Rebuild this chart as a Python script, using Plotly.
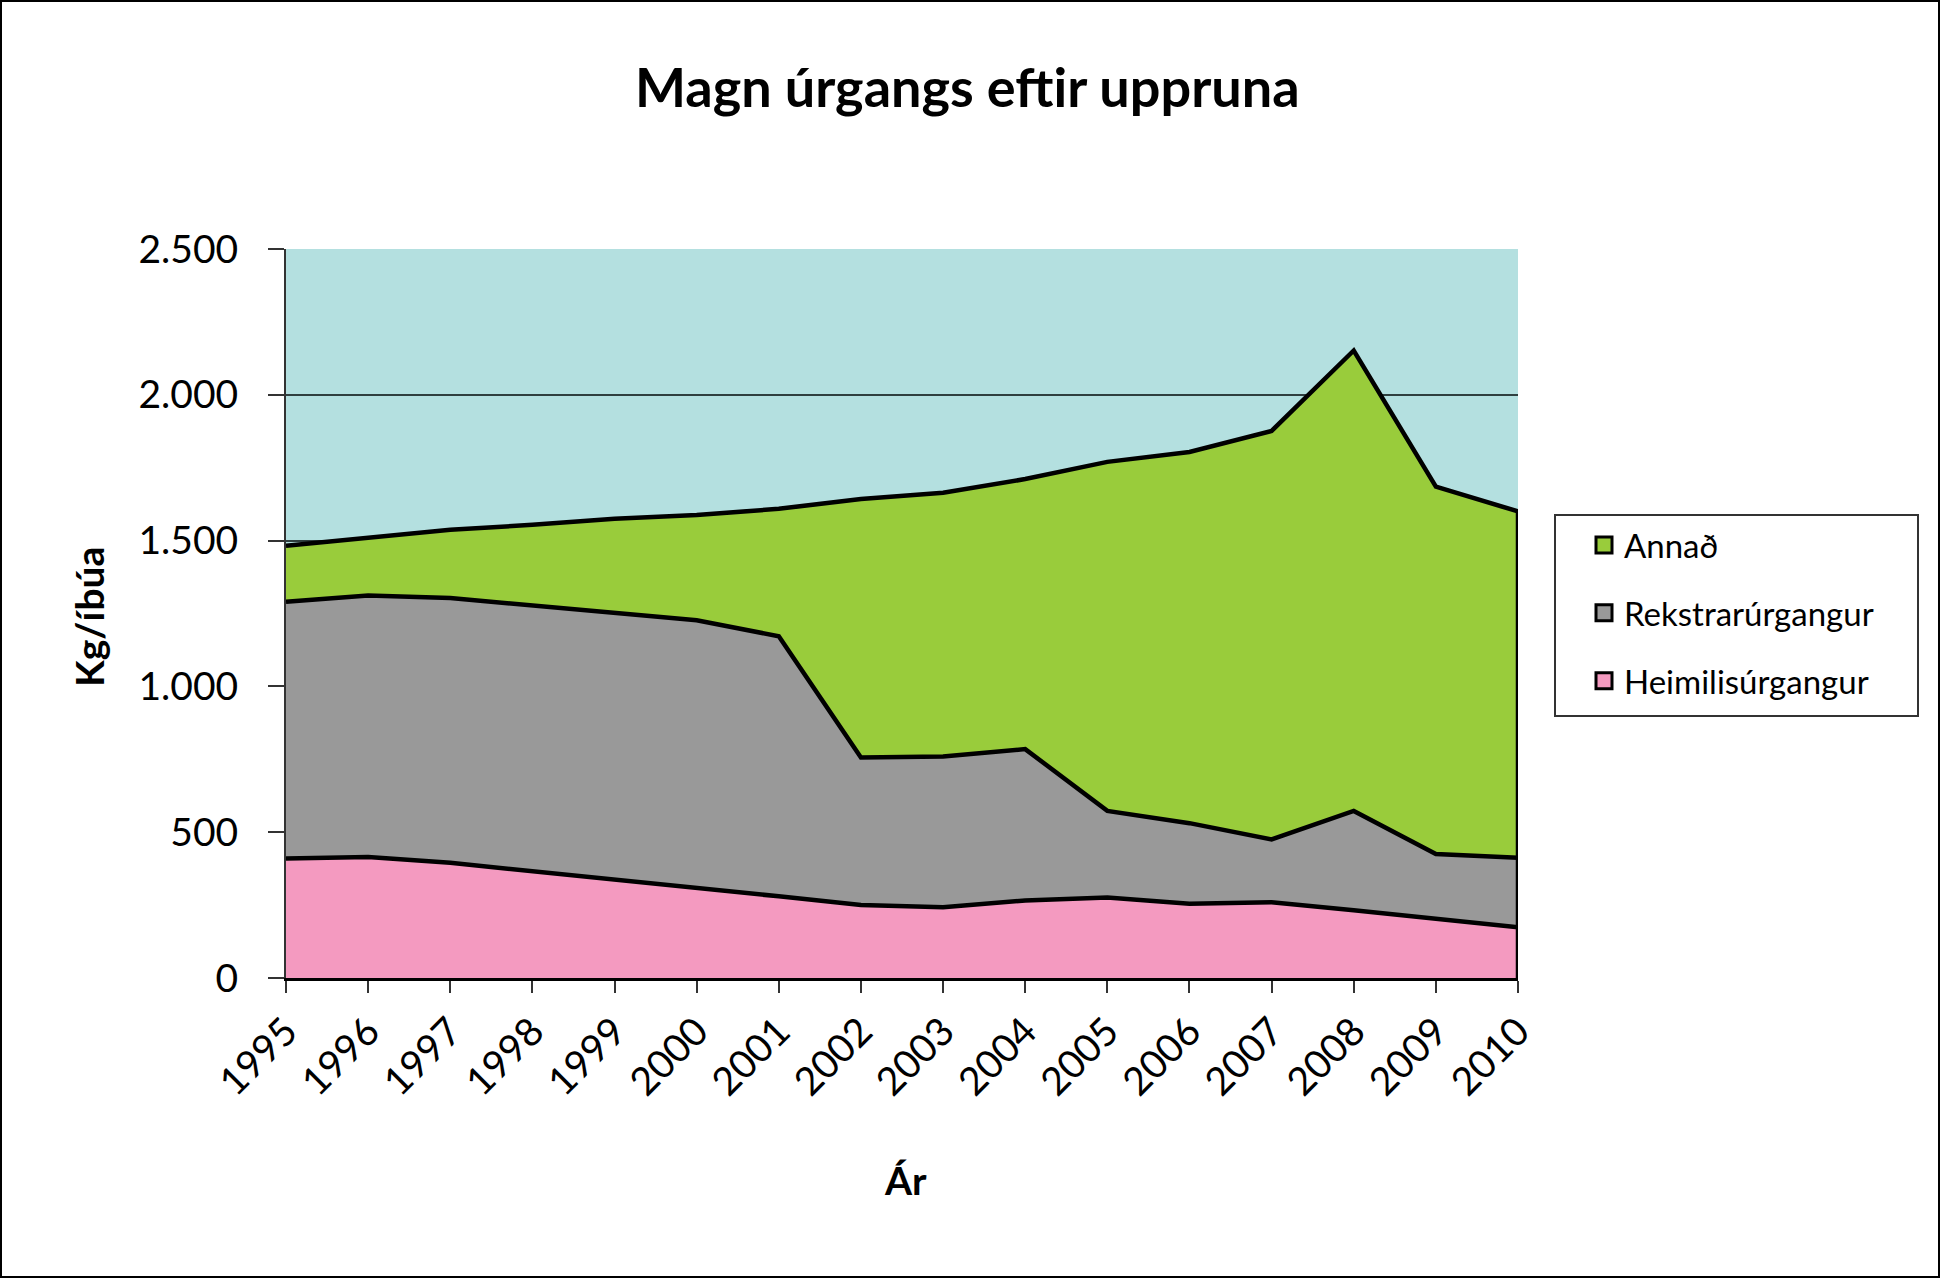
import plotly.graph_objects as go

# data (kg per inhabitant)
years = [1995, 1996, 1997, 1998, 1999, 2000, 2001, 2002, 2003, 2004, 2005, 2006, 2007, 2008, 2009, 2010]
heimilis = [410, 415, 395, 367, 337, 310, 280, 250, 243, 266, 276, 255, 260, 232, 203, 174]
rekstrar = [880, 897, 908, 911, 915, 917, 892, 506, 517, 519, 297, 276, 215, 341, 222, 238]
annad = [192, 199, 234, 276, 323, 361, 437, 887, 904, 926, 1197, 1273, 1401, 1579, 1260, 1188]
series_names = ["Heimilisúrgangur", "Rekstrarúrgangur", "Annað"]
series_colors = ["#F49AC0", "#999999", "#99CC3B"]
y_ticks = [0, 500, 1000, 1500, 2000, 2500]

W, H = 1941, 1279
L, R, T, B = 286, 423, 249, 301
pw, ph = W - L - R, H - T - B
FONT = "Lato"

def px_x(p):
    return (p - L) / pw

def px_y(p):
    return (H - B - p) / ph

fig = go.Figure()
for i, (name, vals) in enumerate(zip(series_names, [heimilis, rekstrar, annad])):
    fig.add_trace(go.Scatter(
        x=years, y=vals, name=name, mode="lines", stackgroup="one",
        fillcolor=series_colors[i], line=dict(color="black", width=4.5),
        showlegend=False,
    ))

# right-hand edge of the stacked area
total = [a + b + c for a, b, c in zip(heimilis, rekstrar, annad)]
fig.add_trace(go.Scatter(x=[years[-1], years[-1]], y=[0, total[-1]], mode="lines",
                         line=dict(color="black", width=4.5), showlegend=False, hoverinfo="skip"))

# legend entries with square swatches, Annað on top
for i, name in enumerate(series_names):
    fig.add_trace(go.Scatter(
        x=[None], y=[None], mode="markers", name=name, legendgroup=name,
        legendrank=3 - i,
        marker=dict(symbol="square", size=20, color=series_colors[i],
                    line=dict(color="black", width=3)),
    ))

fig.update_layout(
    width=W, height=H,
    margin=dict(l=L, r=R, t=T, b=B),
    paper_bgcolor="white", plot_bgcolor="#B4E0E0",
    separators=",.",
    font=dict(family=FONT, color="black"),
    showlegend=True,
    legend=dict(
        x=px_x(1584), y=px_y(517), xanchor="left", yanchor="top",
        borderwidth=0, bgcolor="rgba(0,0,0,0)",
        font=dict(size=33, family=FONT), tracegroupgap=22,
        itemwidth=30,
    ),
)

fig.update_xaxes(
    range=[years[0], years[-1]], tickvals=years, ticktext=[str(y) for y in years],
    tickangle=-45, tickfont=dict(size=39, family=FONT), ticks="outside", ticklen=12,
    tickwidth=2, tickcolor="#333333", showgrid=False, zeroline=False,
    showline=True, linecolor="black", linewidth=3,
)
fig.update_yaxes(
    range=[0, 2500], tickvals=y_ticks, tickformat=",d",
    tickfont=dict(size=39, family=FONT), ticks="outside", ticklen=16, tickwidth=2,
    tickcolor="#333333", ticklabelstandoff=22, showgrid=True, gridcolor="#2F3F3F",
    gridwidth=1.5, zeroline=False, showline=True, linecolor="#333333", linewidth=2,
)

# titles
fig.add_annotation(text="<b>Magn úrgangs eftir uppruna</b>", xref="paper", yref="paper",
                   x=px_x(967), y=px_y(87), xanchor="center", yanchor="middle",
                   showarrow=False, font=dict(size=54, family=FONT))
fig.add_annotation(text="<b>Kg/íbúa</b>", xref="paper", yref="paper",
                   x=px_x(89), y=px_y(617), xanchor="center", yanchor="middle",
                   showarrow=False, textangle=-90, font=dict(size=39, family=FONT))
fig.add_annotation(text="<b>Ár</b>", xref="paper", yref="paper",
                   x=px_x(905), y=px_y(1180), xanchor="center", yanchor="middle",
                   showarrow=False, font=dict(size=39, family=FONT))

# legend box
fig.add_shape(type="rect", xref="paper", yref="paper",
              x0=px_x(1555), x1=px_x(1918), y0=px_y(716), y1=px_y(515),
              line=dict(color="#333333", width=2), fillcolor="white", layer="below")

# outer frame around the whole chart
fig.add_shape(type="rect", xref="paper", yref="paper",
              x0=px_x(1), x1=px_x(W - 2), y0=px_y(H - 2), y1=px_y(1),
              line=dict(color="black", width=2))

fig.write_html("out.html", config={"displayModeBar": False},
               post_script="document.body.style.margin='0px';")
